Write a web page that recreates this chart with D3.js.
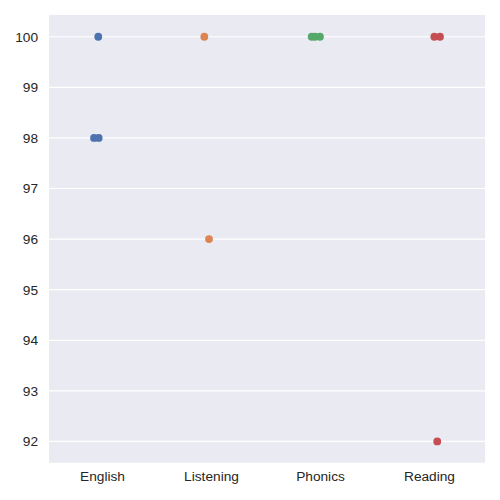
<!DOCTYPE html>
<html>
<head>
<meta charset="utf-8">
<script src="https://cdn.jsdelivr.net/npm/d3@7"></script>
<style>
  body { margin: 0; background: #fff; }
  text { font-family: "Liberation Sans", Arial, sans-serif; }
</style>
</head>
<body>
<div id="chart"></div>
<script>
// subjects along the x axis
var subjects = ["English", "Listening", "Phonics", "Reading"];

// scores per subject
var englishScores = [100, 98, 98];
var listeningScores = [100, 96];
var phonicsScores = [100, 100, 100];
var readingScores = [100, 100, 92];

// horizontal jitter (in category units)
var englishJitter = [-0.048, -0.087, -0.044];
var listeningJitter = [-0.075, -0.032];
var phonicsJitter = [-0.09, -0.06, -0.014];
var readingJitter = [0.035, 0.087, 0.062];

var yTicks = [92, 93, 94, 95, 96, 97, 98, 99, 100];
var palette = ["#4c72b0", "#dd8452", "#55a868", "#c44e52"];

var scores = [englishScores, listeningScores, phonicsScores, readingScores];
var jitters = [englishJitter, listeningJitter, phonicsJitter, readingJitter];

var points = [];
subjects.forEach(function(s, i) {
    scores[i].forEach(function(v, j) {
        points.push({subject: s, idx: i, value: v, jitter: jitters[i][j]});
    });
});

var width = 500, height = 500;
var margin = {top: 15, right: 15, bottom: 37.3, left: 49};

var svg = d3.select("#chart").append("svg")
    .attr("width", width)
    .attr("height", height);

var x = d3.scaleLinear()
    .domain([-0.5, subjects.length - 0.5])
    .range([margin.left, width - margin.right]);

var y = d3.scaleLinear()
    .domain([91.58, 100.43])
    .range([height - margin.bottom, margin.top]);

// background
svg.append("rect")
    .attr("x", margin.left)
    .attr("y", margin.top)
    .attr("width", width - margin.left - margin.right)
    .attr("height", height - margin.top - margin.bottom)
    .attr("fill", "#eaeaf2");

// grid lines
svg.append("g")
    .selectAll("line")
    .data(yTicks)
    .enter()
    .append("line")
    .attr("x1", margin.left)
    .attr("x2", width - margin.right)
    .attr("y1", function(d) { return y(d); })
    .attr("y2", function(d) { return y(d); })
    .attr("stroke", "#fff")
    .attr("stroke-width", 1.2);

// y axis
var yAxis = svg.append("g")
    .attr("transform", "translate(" + margin.left + ",0)")
    .call(d3.axisLeft(y).tickValues(yTicks).tickSize(0).tickPadding(11));
yAxis.select(".domain").remove();
yAxis.selectAll("text")
    .attr("fill", "#262626")
    .style("font-size", "13.7px");

// x axis
var xAxis = svg.append("g")
    .attr("transform", "translate(0," + (height - margin.bottom) + ")")
    .call(d3.axisBottom(x)
        .tickValues(d3.range(subjects.length))
        .tickFormat(function(i) { return subjects[i]; })
        .tickSize(0).tickPadding(9));
xAxis.select(".domain").remove();
xAxis.selectAll("text")
    .attr("fill", "#262626")
    .attr("dx", "-1.5")
    .style("font-size", "13.7px");

// points
svg.append("g")
    .selectAll("circle")
    .data(points)
    .enter()
    .append("circle")
    .attr("cx", function(d) { return x(d.idx + d.jitter); })
    .attr("cy", function(d) { return y(d.value); })
    .attr("r", 3.9)
    .attr("fill", function(d) { return palette[d.idx]; });
</script>
</body>
</html>
